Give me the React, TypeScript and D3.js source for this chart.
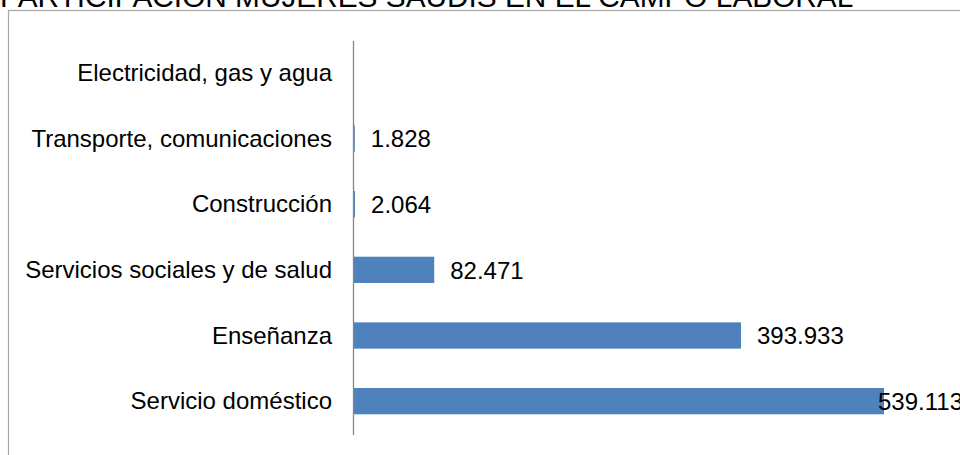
import React, { useRef, useEffect } from 'react';
import * as d3 from 'd3';

// data (values in thousands, es-ES formatting)
const categories: string[] = [
	'Electricidad, gas y agua',
	'Transporte, comunicaciones',
	'Construcción',
	'Servicios sociales y de salud',
	'Enseñanza',
	'Servicio doméstico',
];
const values: (number | null)[] = [null, 1.828, 2.064, 82.471, 393.933, 539.113];
const valueLabels: string[] = ['', '1.828', '2.064', '82.471', '393.933', '539.113'];
const title = 'PARTICIPACIÓN MUJERES SAUDIS EN EL CAMPO LABORAL';

const W = 960;
const H = 455;
const FONT = '"Liberation Sans", Arial, sans-serif';

function App() {
	const svgRef = useRef<SVGSVGElement>(null);

	useEffect(() => {
		const svg = d3.select(svgRef.current);
		svg.selectAll('*').remove();

		const plotLeft = 353;
		const plotTop = 40;
		const plotBottom = 434;

		// frame of the chart area (runs off the right and bottom edges)
		svg
			.append('rect')
			.attr('x', 8.5)
			.attr('y', 10.5)
			.attr('width', 1200)
			.attr('height', 1200)
			.attr('fill', 'white')
			.attr('stroke', '#a6a6a6')
			.attr('stroke-width', 1.2);

		// title, mostly cut off at the top (as in the reference)
		svg
			.append('text')
			.attr('x', 0)
			.attr('y', 7)
			.style('font-family', FONT)
			.style('font-size', '29.8px')
			.attr('fill', '#000')
			.text(title);

		const yScale = d3
			.scaleBand()
			.domain(categories)
			.range([plotTop, plotBottom])
			.paddingInner(0.6)
			.paddingOuter(0.3);

		const xScale = d3.scaleLinear().domain([0, 539.113]).range([plotLeft, 884]);

		const rows = categories.map((c, i) => ({ c, v: values[i], label: valueLabels[i] }));

		svg
			.selectAll('.bar')
			.data(rows.filter((d) => d.v !== null))
			.join('rect')
			.attr('class', 'bar')
			.attr('x', xScale(0))
			.attr('y', (d) => yScale(d.c)!)
			.attr('width', (d) => Math.max(xScale(d.v as number) - xScale(0), 0))
			.attr('height', yScale.bandwidth())
			.attr('fill', '#4f81bd');

		// value labels; the last one gets pushed back over the bar like Excel does
		const labelLimit = 878;
		svg
			.selectAll('.val')
			.data(rows.filter((d) => d.v !== null))
			.join('text')
			.attr('class', 'val')
			.attr('x', (d) => Math.min(xScale(d.v as number) + 16, labelLimit))
			.attr('y', (d) => yScale(d.c)! + yScale.bandwidth() / 2 + 0.5)
			.attr('dy', '0.35em')
			.style('font-family', FONT)
			.style('font-size', '24px')
			.attr('fill', '#000')
			.text((d) => d.label);

		const yAxis = d3.axisLeft(yScale).tickSizeInner(0).tickSizeOuter(0).tickPadding(21);
		const g = svg.append('g').attr('transform', `translate(${plotLeft},0.5)`).call(yAxis);
		g.select('.domain').attr('stroke', '#868686').attr('stroke-width', 1.3);
		g.selectAll('text')
			.style('font-family', FONT)
			.style('font-size', '24px')
			.attr('fill', '#000');
	}, []);

	return (
		<svg
			ref={svgRef}
			width={W}
			height={H}
			style={{ position: 'absolute', left: 0, top: 0, background: 'white' }}
		/>
	);
}

export default App;
